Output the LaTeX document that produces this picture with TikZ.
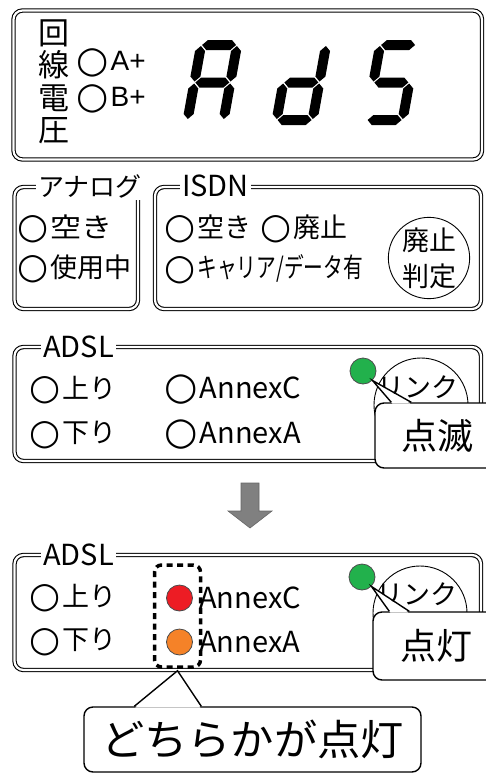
\documentclass[tikz,border=0pt]{standalone}
\usepackage{fontspec}
\setmainfont{Noto Sans CJK JP}
\newfontfamily\symfont{DejaVu Sans}
\newfontfamily\arialfont{Liberation Sans}
\usepackage{graphicx}
\usepackage{tikz}
\usetikzlibrary{calc, positioning}

\definecolor{ledgreen}{RGB}{34,177,76}
\definecolor{ledred}{RGB}{237,28,36}
\definecolor{ledorange}{RGB}{245,130,40}
\definecolor{arrowgray}{RGB}{128,128,128}

\newcommand{\offlamp}{\raisebox{-0.06em}{\scalebox{1.32}{\symfont ○}}\hspace{0.08em}}
% seven segment pieces: x, y, length
\newcommand{\hsegm}[3]{\fill (#1,#2) -- ++(5,-5) -- ++(#3-10,0) -- ++(5,5) -- ++(-5,5) -- ++(10-#3,0) -- cycle;}
\newcommand{\vsegm}[3]{\fill (#1,#2) -- ++(5,5) -- ++(0,#3-10) -- ++(-5,5) -- ++(-5,-5) -- ++(0,10-#3) -- cycle;}
\newcommand{\lcda}{\hsegm{6}{5}{34}}
\newcommand{\lcdb}{\vsegm{41}{6}{35.5}}
\newcommand{\lcdc}{\vsegm{41}{43.5}{35.5}}
\newcommand{\lcdd}{\hsegm{6}{80}{34}}
\newcommand{\lcde}{\vsegm{5}{43.5}{35.5}}
\newcommand{\lcdf}{\vsegm{5}{6}{35.5}}
\newcommand{\lcdg}{\hsegm{6}{42.5}{34}}

\begin{document}
\begin{tikzpicture}[x=1pt, y=-1pt,
    every node/.style={inner sep=0pt},
    frame/.style={draw, double, line width=1.1pt, double distance=2.2pt, rounded corners=9pt},
    title/.style={fill=white, inner sep=2pt, anchor=west, font=\fontsize{29}{31}\selectfont},
    item/.style={anchor=west, font=\fontsize{27}{29}\selectfont},
    led/.style={circle, draw=black!70, line width=0.8pt, minimum size=26pt},
    ring/.style={circle, draw, line width=0.9pt},
    callout/.style={draw, line width=1.4pt, fill=white, rounded corners=9pt},
    pointer/.style={line width=1.4pt, line join=miter}
  ]
  \useasboundingbox (0,0) rectangle (486,774);
  \clip (0,0) rectangle (486,774);

  % line voltage display
  \node[frame, minimum width=468.5, minimum height=149] (volt) at (247.75,85) {};
  \node[align=center, font=\fontsize{31}{32.5}\selectfont] (voltlbl) at (54,82) {回\\線\\電\\圧};
  \node[item, font=\fontsize{28}{30}\selectfont] (lineA) at (76,63) {\offlamp{\arialfont A+}};
  \node[item, font=\fontsize{28}{30}\selectfont] (lineB) at (76,99) {\offlamp{\arialfont B+}};
  \begin{scope}[shift={(197,40)}, xslant=0.18]
    \foreach \s in {a,b,c,e,f,g} {\csname lcd\s\endcsname}
  \end{scope}
  \begin{scope}[shift={(286,40)}, xslant=0.18]
    \foreach \s in {b,c,d,e,g} {\csname lcd\s\endcsname}
  \end{scope}
  \begin{scope}[shift={(376,40)}, xslant=0.18]
    \foreach \s in {a,c,d,f,g} {\csname lcd\s\endcsname}
  \end{scope}

  % analog / isdn
  \node[frame, minimum width=123.5, minimum height=122] (analog) at (76.25,248) {};
  \node[frame, minimum width=326, minimum height=122] (isdn) at (318,248) {};
  \node[title, font=\fontsize{26}{28}\selectfont] (analogttl) at (36,186) {アナログ};
  \node[title] (isdnttl) at (180,186) {ISDN};
  \node[item] (anfree) at (17,229) {\offlamp\scalebox{1.15}[1]{空き}};
  \node[item] (anbusy) at (17,269) {\offlamp 使用中};
  \node[item] (isfree) at (164,229) {\offlamp 空き};
  \node[item] (isabol) at (260,229) {\offlamp 廃止};
  \node[item] (iscarr) at (164,269) {\offlamp\scalebox{0.73}[1]{キャリア/データ有}};
  \node[ring, minimum size=78, align=center, font=\fontsize{27}{36}\selectfont] (judge) at (429,258) {廃止\\判定};

  % adsl before
  \node[frame, minimum width=466.5, minimum height=114] (adslA) at (247.75,404) {};
  \node[title] (adslAttl) at (41,347) {ADSL};
  \node[item] (upA) at (29,390) {\offlamp 上り};
  \node[item] (downA) at (29,435) {\offlamp 下り};
  \node[item, font=\fontsize{29}{31}\selectfont] (anxcA) at (164,390) {\offlamp AnnexC};
  \node[item, font=\fontsize{29}{31}\selectfont] (anxaA) at (164,435) {\offlamp AnnexA};
  \node[ring, minimum size=94] (linkA) at (421,405) {};
  \node[font=\fontsize{27}{29}\selectfont] (linkAtxt) at (418,387) {リンク};
  \node[led, fill=ledgreen] (ledA) at (363,371) {};
  \node[callout, minimum width=125, minimum height=65, font=\fontsize{36}{38}\selectfont] (blink) at (437.5,435.5) {点滅};
  \fill[white] ($(blink.north west)+(18,1.2)$) -- (ledA.south east) -- ($(blink.north west)+(36,1.2)$) -- cycle;
  \draw[pointer] ($(blink.north west)+(17,0)$) -- (ledA.south east) -- ($(blink.north west)+(37,0)$);

  \fill[arrowgray, draw=black!60, line width=0.6pt] (241,483) -- (259,483) -- (259,511) -- (272,511) -- (250,528) -- (228,511) -- (241,511) -- cycle;

  % adsl after
  \node[frame, minimum width=466.5, minimum height=115] (adslB) at (247.75,612.5) {};
  \node[title] (adslBttl) at (41,555) {ADSL};
  \node[item] (upB) at (29,598) {\offlamp 上り};
  \node[item] (downB) at (29,642) {\offlamp 下り};
  \node[led, fill=ledred] (ledC) at (179.5,598) {};
  \node[led, fill=ledorange] (ledAnx) at (179.5,642) {};
  \node[item, font=\fontsize{29}{31}\selectfont] (anxcB) at (199,598) {AnnexC};
  \node[item, font=\fontsize{29}{31}\selectfont] (anxaB) at (199,642) {AnnexA};
  \node[draw, dash pattern=on 6pt off 4.5pt, line width=3.5pt, rounded corners=7pt, minimum width=46, minimum height=102] (either) at (177.5,616) {};
  \node[ring, minimum size=94] (linkB) at (420,613) {};
  \node[font=\fontsize{27}{29}\selectfont] (linkBtxt) at (417,594) {リンク};
  \node[led, fill=ledgreen] (ledB) at (362,577) {};
  \node[callout, minimum width=127, minimum height=68, font=\fontsize{36}{38}\selectfont] (lit) at (436.5,646) {点灯};
  \fill[white] ($(lit.north west)+(18,1.2)$) -- (ledB.south east) -- ($(lit.north west)+(36,1.2)$) -- cycle;
  \draw[pointer] ($(lit.north west)+(17,0)$) -- (ledB.south east) -- ($(lit.north west)+(37,0)$);

  \node[callout, minimum width=337, minimum height=65, font=\fontsize{42}{44}\selectfont] (eithertxt) at (252.5,739.5) {\scalebox{1.03}[1]{どちらかが点灯}};
  \fill[white] ($(eithertxt.north west)+(52,1.2)$) -- ($(either.south)+(0,2)$) -- ($(eithertxt.north west)+(117,1.2)$) -- cycle;
  \draw[pointer] ($(eithertxt.north west)+(51,0)$) -- ($(either.south)+(0,2)$) -- ($(eithertxt.north west)+(118,0)$);
\end{tikzpicture}
\end{document}
